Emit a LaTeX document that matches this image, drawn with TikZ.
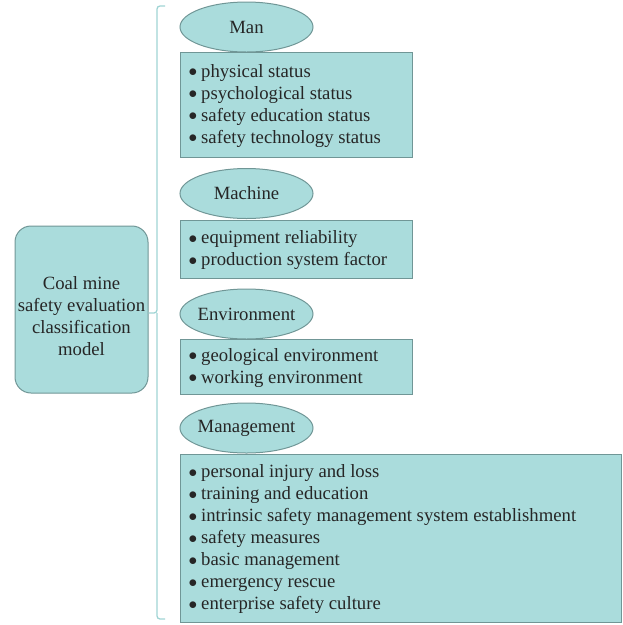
\documentclass[tikz,border=0pt]{standalone}
\usepackage{fontspec}
\setmainfont{Liberation Serif}
\usetikzlibrary{shapes.geometric}
\definecolor{tealfill}{RGB}{170,220,220}
\definecolor{tealedge}{RGB}{112,150,150}
\definecolor{bracecol}{RGB}{160,212,212}
\tikzset{
  every node/.style={font=\fontsize{18.7}{22}\selectfont, text=black!85},
  ell/.style={ellipse, draw=tealedge, fill=tealfill, line width=1pt, minimum width=133pt, minimum height=50pt, inner sep=0pt},
  itembox/.style={rectangle, draw=tealedge, fill=tealfill, line width=1pt, inner sep=0pt, anchor=north west},
  rootbox/.style={rectangle, rounded corners=16pt, draw=tealedge, fill=tealfill, line width=1pt, inner sep=0pt, minimum width=133pt, minimum height=167pt},
  items/.style={anchor=west, align=left, inner sep=0pt},
  bracket/.style={draw=bracecol, line width=1.3pt, rounded corners=3pt}
}
\newcommand{\itm}{\makebox[12.5pt][l]{\raisebox{0.5pt}{$\bullet$}}}
\newcommand{\lbl}[1]{\makebox[0pt][c]{#1}}
\begin{document}
\begin{tikzpicture}[x=1pt,y=-1pt]
\useasboundingbox (0,0) rectangle (623,625);
% root
\node[rootbox] (root) at (81.5,309.5) {};
\node[align=center, inner sep=0pt] (roottxt) at (81.5,316) {Coal mine\\safety evaluation\\classification\\model};
% bracket
\coordinate (bt) at (165,6);
\coordinate (bm) at (157,313);
\coordinate (bb) at (165,619);
\draw[bracket] (bt) -| (bm) -- (root.east |- bm);
\draw[bracket] (bb) -| (bm);
% Man
\node[ell] (man) at (246.5,27) {\lbl{Man}};
\node[itembox, minimum width=232pt, minimum height=105pt] (manbox) at (180,52) {};
\node[items] (mantxt) at ([xshift=8.5pt,yshift=-1pt]manbox.west) {\itm physical status\\\itm psychological status\\\itm safety education status\\\itm safety technology status};
% Machine
\node[ell] (mach) at (246.5,193.5) {\lbl{Machine}};
\node[itembox, minimum width=232pt, minimum height=58pt] (machbox) at (180,220) {};
\node[items] (machtxt) at ([xshift=8.5pt,yshift=-1pt]machbox.west) {\itm equipment reliability\\\itm production system factor};
% Environment
\node[ell] (env) at (246.5,314) {\lbl{Environment}};
\node[itembox, minimum width=232pt, minimum height=55pt] (envbox) at (180,339) {};
\node[items] (envtxt) at ([xshift=8.5pt,yshift=-1pt]envbox.west) {\itm geological environment\\\itm working environment};
% Management
\node[ell] (mgmt) at (246.5,428) {\lbl{Management}};
\node[itembox, minimum width=441pt, minimum height=168pt] (mgmtbox) at (180,454) {};
\node[items] (mgmttxt) at ([xshift=8.5pt,yshift=-1pt]mgmtbox.west) {\itm personal injury and loss\\\itm training and education\\\itm intrinsic safety management system establishment\\\itm safety measures\\\itm basic management\\\itm emergency rescue\\\itm enterprise safety culture};
\end{tikzpicture}
\end{document}
